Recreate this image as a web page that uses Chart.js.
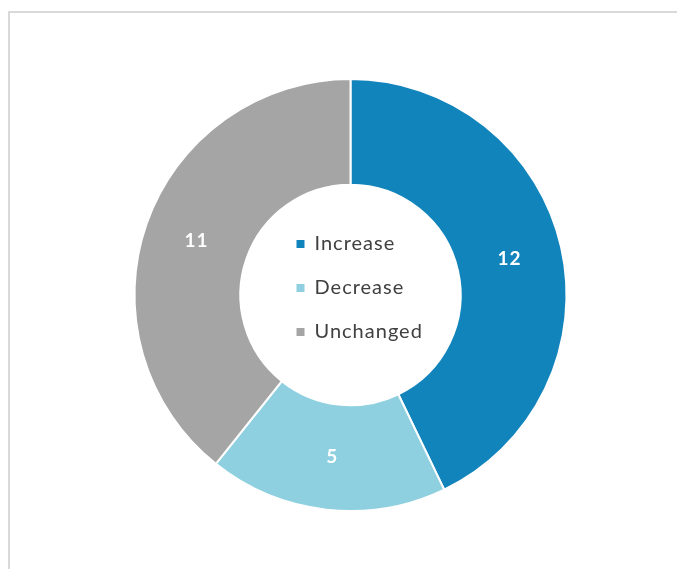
<!DOCTYPE html>
<html>
<head>
<meta charset="utf-8">
<script src="https://cdn.jsdelivr.net/npm/chart.js@4.4.1/dist/chart.umd.min.js"></script>
<style>
  html, body { margin: 0; padding: 0; background: #fff; }
  #wrap { position: relative; width: 677px; height: 569px; }
  #frame {
    position: absolute; left: 8px; top: 11px; right: 0; bottom: 0;
    border-top: 2px solid #d9d9d9; border-left: 2px solid #d9d9d9;
  }
  canvas { position: absolute; left: 0; top: 0; }
</style>
</head>
<body>
<div id="wrap">
  <div id="frame"></div>
  <canvas id="chart" width="677" height="569"></canvas>
</div>
<script>
'use strict';

// ── Data ──────────────────────────────────────────────────────────────
const labels = ['Increase', 'Decrease', 'Unchanged'];
const counts = [12, 5, 11];
const colors = ['#1284BC', '#8ED0E0', '#A5A5A5'];

// ── Value labels in the middle of each ring segment ──────────────────
const valueLabels = {
  id: 'valueLabels',
  afterDatasetsDraw(chart) {
    const ctx = chart.ctx;
    const meta = chart.getDatasetMeta(0);
    ctx.save();
    ctx.fillStyle = '#ffffff';
    ctx.font = 'bold 19px Lato, "Open Sans", sans-serif';
    ctx.letterSpacing = '1px';
    ctx.textAlign = 'center';
    ctx.textBaseline = 'middle';
    meta.data.forEach((arc, i) => {
      const p = arc.tooltipPosition();
      ctx.fillText(String(counts[i]), p.x, p.y);
    });
    ctx.restore();
  }
};

// ── Legend drawn inside the hole ──────────────────────────────────────
const centerLegend = {
  id: 'centerLegend',
  afterDraw(chart) {
    const ctx = chart.ctx;
    const arc = chart.getDatasetMeta(0).data[0];
    const cx = arc.x, cy = arc.y;
    ctx.save();
    ctx.font = '20px Lato, "Open Sans", sans-serif';
    ctx.letterSpacing = '1px';
    ctx.textBaseline = 'middle';
    ctx.textAlign = 'left';
    labels.forEach((name, i) => {
      const y = cy - 51 + i * 44;
      ctx.fillStyle = colors[i];
      ctx.fillRect(cx - 54, y - 4, 8, 8);
      ctx.fillStyle = '#404040';
      ctx.fillText(name, cx - 36, y);
    });
    ctx.restore();
  }
};

new Chart(document.getElementById('chart'), {
  type: 'doughnut',
  data: {
    labels,
    datasets: [{
      data: counts,
      backgroundColor: colors,
      borderColor: '#ffffff',
      borderWidth: 2,
    }],
  },
  options: {
    responsive: false,
    animation: false,
    cutout: '51%',
    layout: { padding: { top: 78, bottom: 57, left: 24, right: 0 } },
    plugins: {
      legend: { display: false },
      tooltip: { enabled: false },
    },
  },
  plugins: [valueLabels, centerLegend],
});
</script>
</body>
</html>
